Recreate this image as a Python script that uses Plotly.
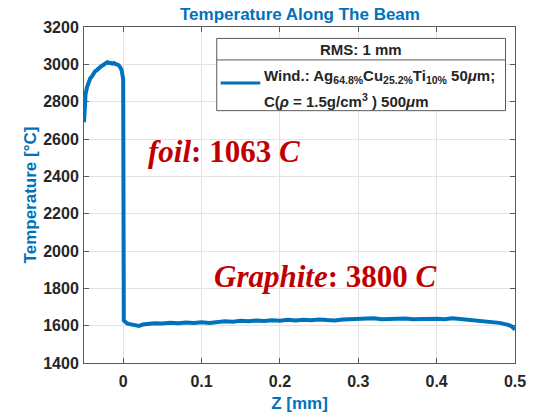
import plotly.graph_objects as go

# Temperature profile along the beam axis
z_mm = [
    -0.050, -0.0495, -0.049, -0.048, -0.046, -0.044, -0.042, -0.040, -0.038, -0.036,
    -0.034, -0.032, -0.030, -0.028, -0.026, -0.024, -0.022, -0.020, -0.018, -0.016,
    -0.014, -0.012, -0.010, -0.008, -0.006, -0.004, -0.002, -0.001, 0.000, 0.0008,
    0.002, 0.005, 0.010, 0.015, 0.020, 0.025, 0.030, 0.040, 0.050, 0.060,
    0.070, 0.080, 0.090, 0.100, 0.110, 0.120, 0.130, 0.140, 0.150, 0.160,
    0.170, 0.180, 0.190, 0.200, 0.210, 0.220, 0.230, 0.240, 0.250, 0.260,
    0.270, 0.280, 0.290, 0.300, 0.310, 0.320, 0.330, 0.340, 0.350, 0.360,
    0.370, 0.380, 0.390, 0.400, 0.410, 0.420, 0.430, 0.440, 0.450, 0.460,
    0.470, 0.480, 0.490, 0.495, 0.500,
]
temp_c = [
    2690, 2760, 2810, 2840, 2880, 2905, 2925, 2935, 2950, 2962,
    2968, 2978, 2985, 2990, 2995, 3000, 3004, 3012, 3006, 3008,
    3004, 3007, 3002, 2999, 2996, 2985, 2970, 2945, 2920, 1628,
    1625, 1612, 1607, 1600, 1598, 1606, 1610, 1613, 1611, 1615,
    1613, 1617, 1614, 1618, 1615, 1620, 1623, 1621, 1626, 1624,
    1628, 1625, 1629, 1627, 1631, 1628, 1632, 1629, 1633, 1630,
    1628, 1633, 1635, 1632, 1637, 1640, 1634, 1637, 1635, 1638,
    1634, 1636, 1633, 1637, 1634, 1640, 1636, 1632, 1628, 1624,
    1620, 1615, 1606, 1598, 1580,
]

x_ticks = [0, 0.1, 0.2, 0.3, 0.4, 0.5]
x_tick_text = ["0", "0.1", "0.2", "0.3", "0.4", "0.5"]
y_ticks = [1400, 1600, 1800, 2000, 2200, 2400, 2600, 2800, 3000, 3200]

BLUE = "#0072BD"
AX = "#262626"
RED = "#C00000"
SANS = "Liberation Sans, Arial"

fig = go.Figure()
fig.add_trace(go.Scatter(
    x=z_mm, y=temp_c, mode="lines",
    line=dict(color=BLUE, width=4),
    showlegend=False,
))

axis_common = dict(
    showline=True, mirror="ticks", linecolor="#5a5a5a", linewidth=1,
    ticks="inside", ticklen=5, tickcolor="#5a5a5a",
    showgrid=True, gridcolor="#e3e3e3", gridwidth=1,
    zeroline=False, automargin=False,
    tickfont=dict(family=SANS, size=16, color=AX, weight="bold"),
)

fig.update_xaxes(
    range=[-0.05, 0.5], tickvals=x_ticks, ticktext=x_tick_text,
    ticklabelstandoff=4,
    title=dict(text="Z [mm]", font=dict(family=SANS, size=17, color=BLUE, weight="bold"),
               standoff=10),
    **axis_common,
)
fig.update_yaxes(
    range=[1400, 3200], tickvals=y_ticks,
    ticklabelstandoff=1,
    title=dict(text="Temperature [°C]", font=dict(family=SANS, size=17, color=BLUE, weight="bold"),
               standoff=2),
    **axis_common,
)

# Legend box drawn by hand (header row + one entry)
lx0, lx1 = 0.308, 0.978
ly0, ly1, ldiv = 0.751, 0.966, 0.902
shapes = [
    dict(type="rect", xref="paper", yref="paper", x0=lx0, x1=lx1, y0=ly0, y1=ly1,
         line=dict(color="#5a5a5a", width=1), fillcolor="white", layer="above"),
    dict(type="line", xref="paper", yref="paper", x0=lx0, x1=lx1, y0=ldiv, y1=ldiv,
         line=dict(color="#5a5a5a", width=1), layer="above"),
    dict(type="line", xref="paper", yref="paper", x0=0.317, x1=0.409, y0=0.833, y1=0.833,
         line=dict(color=BLUE, width=3), layer="above"),
]

leg_font = dict(family=SANS, size=15, color=AX, weight="bold")
annotations = [
    dict(text="Temperature Along The Beam", xref="paper", yref="paper",
         x=0.5, y=1.036, xanchor="center", yanchor="middle", showarrow=False,
         font=dict(family=SANS, size=17, color=BLUE, weight="bold")),
    dict(text="RMS: 1 mm", xref="paper", yref="paper", x=0.643, y=0.934,
         xanchor="center", yanchor="middle", showarrow=False, font=leg_font),
    dict(text="Wind.: Ag<sub>64.8%</sub>Cu<sub>25.2%</sub>Ti<sub>10%</sub> 50<i>μ</i>m;",
         xref="paper", yref="paper", x=0.413, y=0.854, xanchor="left", yanchor="middle",
         showarrow=False, font=leg_font),
    dict(text="C(<i>ρ</i> = 1.5g/cm<sup>3</sup> ) 500<i>μ</i>m",
         xref="paper", yref="paper", x=0.413, y=0.782, xanchor="left", yanchor="middle",
         showarrow=False, font=leg_font),
    dict(text="<i>foil</i>: 1063 <i>C</i>", xref="paper", yref="paper",
         x=0.144, y=0.628, xanchor="left", yanchor="middle", showarrow=False,
         font=dict(family="Liberation Serif, DejaVu Serif", size=31, color=RED, weight="bold")),
    dict(text="<i>Graphite</i>: 3800 <i>C</i>", xref="paper", yref="paper",
         x=0.297, y=0.256, xanchor="left", yanchor="middle", showarrow=False,
         font=dict(family="Liberation Serif, DejaVu Serif", size=31, color=RED, weight="bold")),
]

fig.update_layout(
    width=536, height=413,
    margin=dict(l=84, r=21, t=27, b=50),
    paper_bgcolor="white", plot_bgcolor="white",
    shapes=shapes, annotations=annotations,
    showlegend=False,
)

fig.write_html("out.html")
